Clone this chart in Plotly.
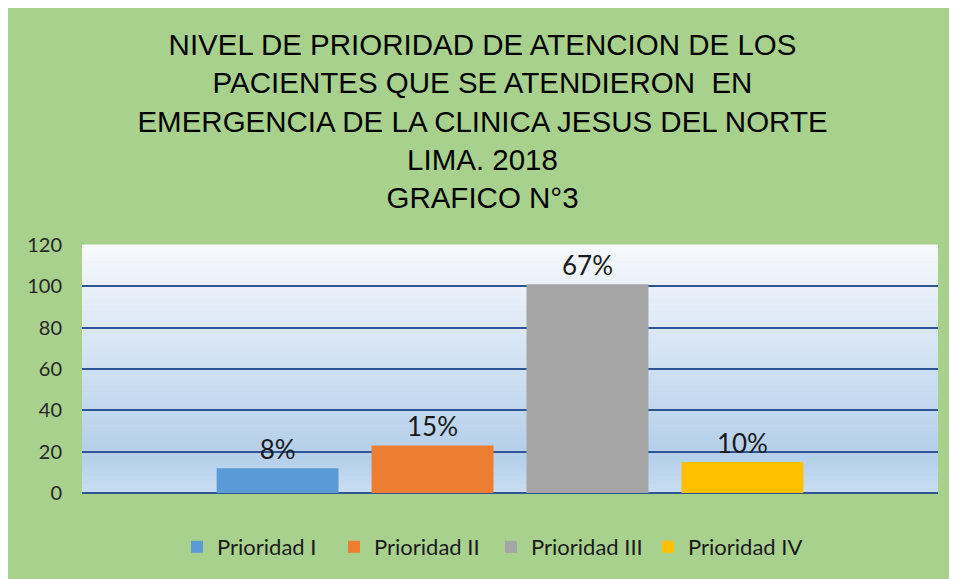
"""Grafico N°3: nivel de prioridad de atencion en emergencia."""

import plotly.graph_objects as go

prioridades = ["Prioridad I", "Prioridad II", "Prioridad III", "Prioridad IV"]
pacientes = [12, 23, 101, 15]
porcentajes = ["8%", "15%", "67%", "10%"]
colores = ["#5b9bd5", "#ed7d31", "#a5a5a5", "#ffc000"]
categoria = [""]

TITULO = (
    "NIVEL DE PRIORIDAD DE ATENCION DE LOS<br>"
    "PACIENTES QUE SE ATENDIERON  EN<br>"
    "EMERGENCIA DE LA CLINICA JESUS DEL NORTE<br>"
    "LIMA. 2018<br>"
    "GRAFICO N°3"
)

VERDE = "#a9d18e"
FUENTE = "Lato, 'Open Sans', sans-serif"
ANCHO, ALTO = 949, 571


def mezcla(c1, c2, t):
    a = [int(c1[i:i + 2], 16) for i in (1, 3, 5)]
    b = [int(c2[i:i + 2], 16) for i in (1, 3, 5)]
    return "rgb({},{},{})".format(*[round(x + (y - x) * t) for x, y in zip(a, b)])


fig = go.Figure()
for nombre, valor, texto, color in zip(prioridades, pacientes, porcentajes, colores):
    fig.add_trace(
        go.Bar(
            x=categoria,
            y=[valor],
            name=nombre,
            text=[texto],
            textposition="outside",
            textfont={"size": 26, "color": "#1a1a1a", "family": FUENTE},
            marker={"color": color, "line": {"width": 0}},
            cliponaxis=False,
        )
    )

# degradado del area de trazado (blanco arriba, celeste abajo)
formas = []
n = 60
for i in range(n):
    t = (i + 0.5) / n
    if t < 0.85:
        col = mezcla("#f7f9fd", "#b4cfea", t / 0.85)
    else:
        col = mezcla("#b4cfea", "#c9ddf1", (t - 0.85) / 0.15)
    formas.append(
        dict(
            type="rect", xref="paper", yref="paper", layer="below",
            x0=0, x1=1, y0=1 - (i + 1) / n, y1=1 - i / n + 0.002,
            fillcolor=col, line={"width": 0},
        )
    )

fig.update_layout(
    width=ANCHO,
    height=ALTO,
    margin={"l": 74, "r": 19, "t": 237, "b": 85},
    paper_bgcolor=VERDE,
    plot_bgcolor="#dce8f5",
    barmode="group",
    bargap=0.276,
    bargroupgap=0.213,
    shapes=formas,
    title={
        "text": TITULO,
        "x": 0.5,
        "xanchor": "center",
        "y": 1 - 47 / ALTO,
        "yanchor": "top",
        "font": {"size": 29.5, "color": "#000000",
                 "family": "'Liberation Sans', Arial, sans-serif"},
    },
    xaxis={"showticklabels": False, "showgrid": False, "zeroline": False},
    yaxis={
        "range": [0, 120],
        "dtick": 20,
        "showgrid": True,
        "gridcolor": "#2f5597",
        "gridwidth": 2,
        "zeroline": True,
        "zerolinecolor": "#2f5597",
        "zerolinewidth": 2,
        "ticklabelstandoff": 19,
        "tickfont": {"size": 20, "color": "#262626", "family": FUENTE},
    },
    legend={
        "orientation": "h",
        "x": 0.111,
        "xanchor": "left",
        "y": -53 / 249,
        "yanchor": "middle",
        "font": {"size": 22, "color": "#1a1a1a", "family": FUENTE},
        "bgcolor": "rgba(0,0,0,0)",
        "itemwidth": 30,
        "entrywidth": 112,
    },
    font={"family": FUENTE},
)

fig.write_html("out.html")
